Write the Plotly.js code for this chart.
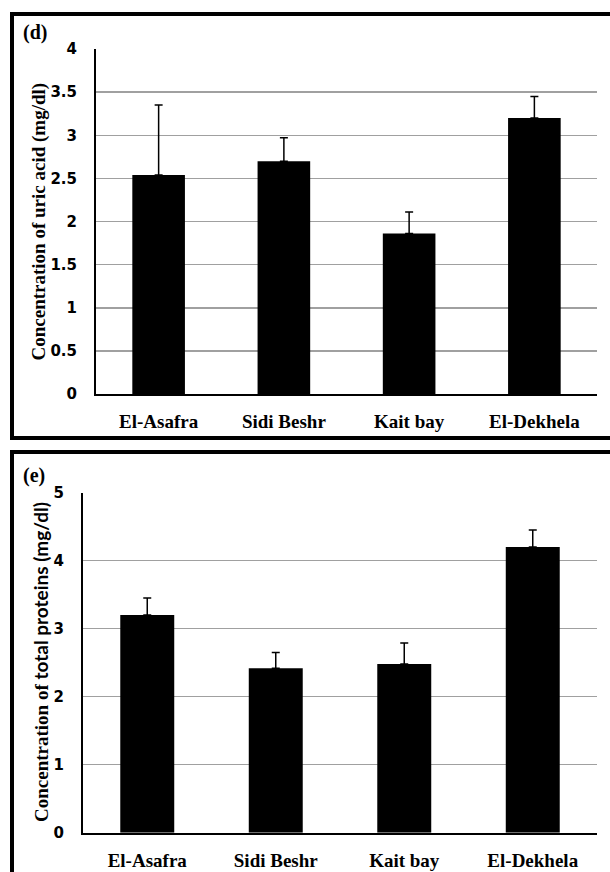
<!DOCTYPE html>
<html>
<head>
<meta charset="utf-8">
<script src="https://cdn.plot.ly/plotly-3.0.1.min.js"></script>
<style>html,body{margin:0;padding:0;background:#fff;}#chart{width:610px;height:872px;}</style>
</head>
<body>
<div id="chart"></div>
<script>
// Data
var sites = ["El-Asafra", "Sidi Beshr", "Kait bay", "El-Dekhela"];
var uricAcid = [2.54, 2.70, 1.86, 3.20];
var uricAcidErr = [0.81, 0.27, 0.25, 0.25];
var totalProteins = [3.20, 2.42, 2.48, 4.20];
var totalProteinsErr = [0.25, 0.23, 0.31, 0.25];
var uricTicks = [0, 0.5, 1, 1.5, 2, 2.5, 3, 3.5, 4];
var uricTickText = ["0", "0.5", "1", "1.5", "2", "2.5", "3", "3.5", "4"];
var protTicks = [0, 1, 2, 3, 4, 5];
var protTickText = ["0", "1", "2", "3", "4", "5"];
var uricTitle = "Concentration of uric acid (mg/dl)";
var protTitleA = "Concentration of ";
var protTitleB = "total proteins (mg/dl)";

var W = 610, H = 872;
function px(x) { return x / W; }
function py(y) { return 1 - y / H; }

var serif = "Liberation Serif, Times New Roman, serif";
var sans = "DejaVu Sans, Arial, sans-serif";

var zeros = sites.map(function () { return 0; });

var traces = [
  {
    type: "bar", x: sites, y: uricAcid, xaxis: "x", yaxis: "y",
    marker: {color: "#000000", line: {width: 0}},
    error_y: {type: "data", symmetric: false, array: uricAcidErr, arrayminus: zeros,
      color: "#000000", thickness: 1.5, width: 4},
    hoverinfo: "x+y", showlegend: false
  },
  {
    type: "bar", x: sites, y: totalProteins, xaxis: "x2", yaxis: "y2",
    marker: {color: "#000000", line: {width: 0}},
    error_y: {type: "data", symmetric: false, array: totalProteinsErr, arrayminus: zeros,
      color: "#000000", thickness: 1.5, width: 4},
    hoverinfo: "x+y", showlegend: false
  }
];

var xCommon = {
  type: "category", showline: true, linecolor: "#000000", linewidth: 2,
  showgrid: false, zeroline: false, ticks: "", ticklabelstandoff: 9,
  tickfont: {family: serif, size: 19, color: "#000000", weight: "bold"},
  fixedrange: true
};
var yCommon = {
  showline: true, linecolor: "#000000", linewidth: 2,
  showgrid: true, gridcolor: "#a0a0a0", gridwidth: 1.5, zeroline: false,
  ticks: "", ticklabelstandoff: 14,
  tickfont: {family: sans, size: 15, color: "#000000", weight: "bold"},
  tickmode: "array", fixedrange: true
};

var layout = {
  width: W, height: H,
  margin: {l: 0, r: 0, t: 0, b: 0},
  paper_bgcolor: "#ffffff", plot_bgcolor: "#ffffff",
  bargap: 0.58,
  showlegend: false,
  xaxis: Object.assign({}, xCommon, {domain: [px(96), px(597)], anchor: "y"}),
  yaxis: Object.assign({}, yCommon, {
    domain: [py(394), py(49)], anchor: "x", range: [0, 4],
    tickvals: uricTicks, ticktext: uricTickText
  }),
  xaxis2: Object.assign({}, xCommon, {domain: [px(83), px(597)], anchor: "y2"}),
  yaxis2: Object.assign({}, yCommon, {
    domain: [py(832.7), py(492.7)], anchor: "x2", range: [0, 5],
    tickvals: protTicks, ticktext: protTickText
  }),
  shapes: [
    {type: "rect", xref: "paper", yref: "paper", x0: px(12), x1: px(640), y0: py(438), y1: py(14),
      line: {color: "#000000", width: 4}, fillcolor: "rgba(0,0,0,0)", layer: "above"},
    {type: "rect", xref: "paper", yref: "paper", x0: px(12), x1: px(640), y0: py(900), y1: py(452),
      line: {color: "#000000", width: 4}, fillcolor: "rgba(0,0,0,0)", layer: "above"}
  ],
  annotations: [
    {text: "(d)", xref: "paper", yref: "paper", x: px(21), y: py(33), xanchor: "left", yanchor: "middle",
      showarrow: false, font: {family: serif, size: 20, color: "#000000", weight: "bold"}},
    {text: "(e)", xref: "paper", yref: "paper", x: px(21), y: py(475), xanchor: "left", yanchor: "middle",
      showarrow: false, font: {family: serif, size: 20, color: "#000000", weight: "bold"}},
    {text: uricTitle, xref: "paper", yref: "paper", x: px(38), y: py(221.5), xanchor: "center", yanchor: "middle",
      textangle: -90, showarrow: false, font: {family: serif, size: 19, color: "#000000", weight: "bold"}},
    {text: protTitleA + "<span style=\"font-family:Lato\">" + protTitleB + "</span>", xref: "paper", yref: "paper",
      x: px(40), y: py(662), xanchor: "center", yanchor: "middle",
      textangle: -90, showarrow: false, font: {family: serif, size: 19, color: "#000000", weight: "bold"}}
  ]
};

Plotly.newPlot("chart", traces, layout, {displayModeBar: false, staticPlot: true});
</script>
</body>
</html>
